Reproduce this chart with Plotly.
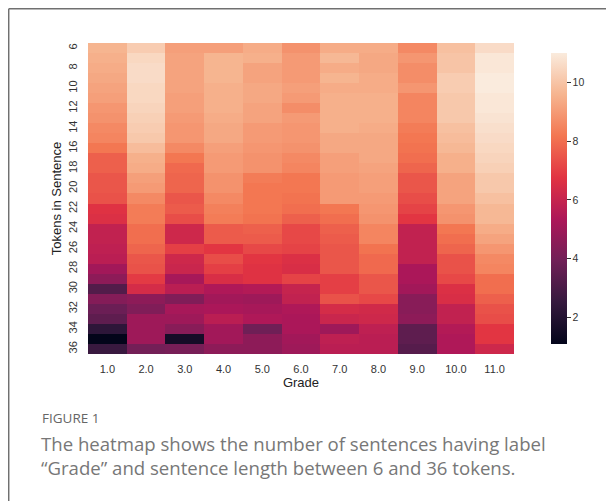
import plotly.graph_objects as go

grades = [1.0, 2.0, 3.0, 4.0, 5.0, 6.0, 7.0, 8.0, 9.0, 10.0, 11.0]
grade_labels = ["1.0", "2.0", "3.0", "4.0", "5.0", "6.0", "7.0", "8.0", "9.0", "10.0", "11.0"]
tokens = list(range(6, 37))
token_ticks = list(range(6, 37, 2))

# values per grade column, rows = tokens 6..36
g1 = [9.6, 9.5, 9.4, 9.3, 9.2, 9.1, 8.9, 8.8, 8.6, 8.5, 8.2, 7.7, 7.7, 7.5, 7.5, 7.4, 6.7, 6.6, 5.9, 5.9, 5.8, 5.7, 5.1, 4.6, 3.2, 4.4, 3.8, 3.5, 2.3, 1.1, 2.6]
g2 = [10.2, 10.5, 10.6, 10.6, 10.5, 10.5, 10.4, 10.3, 10.2, 10.1, 9.8, 9.5, 9.4, 9.1, 9.0, 8.6, 8.3, 8.3, 8.0, 8.0, 7.8, 7.5, 7.4, 6.9, 6.4, 4.6, 4.3, 5.0, 5.0, 5.0, 4.0]
g3 = [9.1, 9.2, 9.2, 9.2, 9.2, 9.1, 9.1, 9.0, 8.9, 8.9, 8.6, 8.2, 7.9, 7.8, 7.8, 7.5, 7.6, 7.3, 6.2, 6.2, 7.0, 6.2, 6.1, 5.2, 5.7, 4.3, 5.2, 5.0, 4.5, 1.6, 4.1]
g4 = [9.1, 9.6, 9.6, 9.6, 9.5, 9.5, 9.5, 9.4, 9.3, 9.3, 9.1, 9.0, 9.0, 8.8, 8.8, 8.6, 8.4, 8.3, 7.6, 7.6, 6.8, 7.3, 7.0, 6.5, 5.4, 5.1, 5.3, 5.7, 5.1, 5.1, 4.6]
g5 = [9.4, 9.5, 9.2, 9.2, 9.3, 9.3, 9.2, 9.2, 9.0, 9.0, 8.9, 8.8, 8.8, 8.3, 8.2, 8.2, 8.2, 8.1, 7.7, 7.6, 7.2, 6.8, 6.7, 6.7, 5.5, 5.0, 5.2, 5.4, 3.9, 4.6, 4.6]
g6 = [8.8, 9.0, 9.0, 9.0, 9.1, 9.0, 8.7, 9.0, 8.9, 8.9, 8.8, 8.6, 8.5, 8.2, 8.2, 8.1, 8.0, 7.7, 7.2, 7.2, 7.1, 6.6, 6.5, 7.1, 6.0, 5.9, 5.4, 5.3, 5.3, 5.1, 5.0]
g7 = [9.4, 9.7, 9.4, 9.6, 9.4, 9.5, 9.5, 9.5, 9.5, 9.3, 9.3, 9.1, 9.1, 9.0, 9.0, 9.0, 8.2, 8.0, 7.7, 7.6, 7.5, 7.5, 7.5, 7.0, 7.0, 7.4, 6.4, 6.1, 5.0, 5.8, 5.7]
g8 = [9.4, 9.3, 9.3, 9.4, 9.4, 9.5, 9.5, 9.5, 9.4, 9.3, 9.3, 9.3, 9.2, 9.1, 9.1, 9.0, 8.9, 8.8, 8.5, 8.5, 8.1, 7.9, 7.9, 7.5, 7.5, 7.2, 6.3, 6.2, 5.8, 5.7, 5.7]
g9 = [8.6, 8.9, 8.7, 8.7, 8.9, 8.5, 8.5, 8.5, 8.3, 8.2, 8.1, 8.0, 7.8, 7.5, 7.5, 7.3, 7.1, 6.8, 5.9, 5.9, 5.9, 5.9, 5.3, 5.3, 5.1, 4.5, 4.5, 4.6, 3.5, 3.5, 3.3]
g10 = [9.9, 10.0, 10.0, 10.2, 10.2, 10.1, 10.1, 10.1, 9.9, 9.8, 9.7, 9.5, 9.5, 9.2, 9.2, 9.2, 8.9, 8.8, 8.2, 8.0, 7.8, 7.4, 7.4, 7.2, 6.6, 6.5, 5.9, 5.9, 5.5, 5.4, 5.4]
g11 = [10.6, 10.9, 10.9, 11.0, 11.0, 10.9, 10.9, 10.8, 10.7, 10.6, 10.5, 10.4, 10.3, 10.1, 10.1, 9.9, 9.7, 9.7, 9.4, 9.2, 8.9, 8.6, 8.5, 8.0, 8.0, 7.7, 7.4, 7.3, 6.8, 6.8, 6.2]

columns = [g1, g2, g3, g4, g5, g6, g7, g8, g9, g10, g11]
z = [[col[i] for col in columns] for i in range(len(tokens))]

rocket = [
    [0.0, "#03051A"],
    [0.143, "#35193E"],
    [0.286, "#701F57"],
    [0.429, "#AD1759"],
    [0.571, "#E13342"],
    [0.714, "#F37651"],
    [0.857, "#F6B48F"],
    [1.0, "#FAEBDD"],
]

fig = go.Figure(go.Heatmap(
    x=grades, y=tokens, z=z,
    colorscale=rocket, zmin=1.1, zmax=11.0,
    xgap=0, ygap=0,
    colorbar=dict(
        x=1.063, xanchor="left", y=0.5, yanchor="middle", len=1.0, lenmode="fraction",
        thickness=16, outlinewidth=0,
        tickvals=[2, 4, 6, 8, 10], ticks="outside", ticklen=4, tickcolor="#333",
        tickfont=dict(family="Liberation Sans, Arial", size=10.5, color="#333"),
    ),
))

axis_font = dict(family="Liberation Sans, Arial", size=11, color="#333")
fig.update_xaxes(
    tickvals=grades, ticktext=grade_labels, ticks="outside", ticklen=5,
    tickcolor="rgba(0,0,0,0)", tickfont=axis_font, showgrid=False, zeroline=False,
    showline=False, range=[0.5, 11.5],
    title=dict(text="Grade", font=dict(family="Liberation Sans, Arial", size=13, color="#222"), standoff=2),
)
fig.update_yaxes(
    tickvals=token_ticks, ticktext=[str(t) for t in token_ticks], tickangle=-90,
    ticks="outside", ticklen=6, tickcolor="rgba(0,0,0,0)", tickfont=axis_font,
    showgrid=False, zeroline=False, showline=False, range=[36.5, 5.5],
    title=dict(text="Tokens in Sentence", font=dict(family="Liberation Sans, Arial", size=13, color="#222"), standoff=2),
)

# screen-pixel helpers (page body has an 8px margin; figure is 606x493)
def px_x(p):
    return (p - 88) / 426.0

def px_y(p):
    return (354 - p) / 311.0

fig.add_annotation(x=px_x(40), y=px_y(418), xref="paper", yref="paper", xanchor="left", yanchor="middle",
                   text="FIGURE 1", showarrow=False,
                   font=dict(family="Open Sans", size=13.5, color="#666666"))
fig.add_annotation(x=px_x(39), y=px_y(443), xref="paper", yref="paper", xanchor="left", yanchor="middle",
                   text="The heatmap shows the number of sentences having label", showarrow=False,
                   font=dict(family="Open Sans", size=18.6, color="#777777"))
fig.add_annotation(x=px_x(39), y=px_y(467), xref="paper", yref="paper", xanchor="left", yanchor="middle",
                   text="“Grade” and sentence length between 6 and 36 tokens.", showarrow=False,
                   font=dict(family="Open Sans", size=18.6, color="#777777"))

fig.add_shape(type="line", xref="paper", yref="paper", x0=px_x(8.7), x1=px_x(630), y0=px_y(8.7), y1=px_y(8.7),
              line=dict(color="#707070", width=1.5))
fig.add_shape(type="line", xref="paper", yref="paper", x0=px_x(8.7), x1=px_x(8.7), y0=px_y(8.7), y1=px_y(520),
              line=dict(color="#707070", width=1.5))

fig.update_layout(
    width=606, height=493,
    margin=dict(l=80, r=100, t=35, b=147, autoexpand=False),
    paper_bgcolor="white", plot_bgcolor="white",
    showlegend=False,
)

fig.write_html("out.html")
